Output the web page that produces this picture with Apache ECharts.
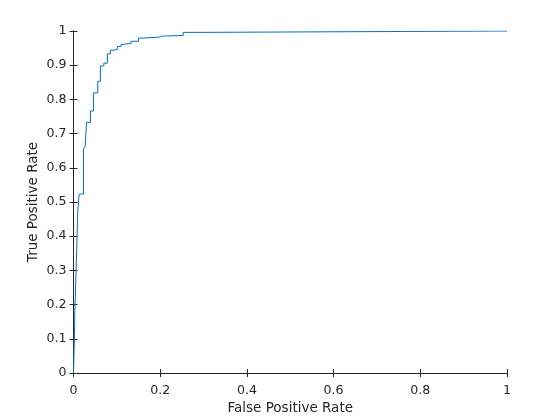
<!DOCTYPE html>
<html>
<head>
<meta charset="utf-8">
<script src="https://cdn.jsdelivr.net/npm/echarts@6/dist/echarts.min.js"></script>
<style>html,body{margin:0;padding:0;background:#fff}#c{width:560px;height:420px}</style>
</head>
<body>
<div id="c"></div>
<script>
// ROC curve step points (false positive rate, true positive rate)
const fpr = [0, 0.002, 0.003, 0.004, 0.006, 0.008, 0.010, 0.013, 0.023, 0.027, 0.030, 0.039, 0.046, 0.056, 0.062, 0.070, 0.078, 0.085, 0.093, 0.101, 0.110, 0.116, 0.133, 0.150, 0.156, 0.198, 0.203, 0.253, 0.299, 1];
const tpr = [0, 0.102, 0.179, 0.216, 0.301, 0.389, 0.477, 0.523, 0.655, 0.662, 0.733, 0.766, 0.819, 0.853, 0.898, 0.906, 0.933, 0.944, 0.946, 0.955, 0.961, 0.964, 0.970, 0.979, 0.982, 0.985, 0.987, 0.996, 1, 1];
const xTicks = [0, 0.2, 0.4, 0.6, 0.8, 1];
const yTicks = [0, 0.1, 0.2, 0.3, 0.4, 0.5, 0.6, 0.7, 0.8, 0.9, 1];
const xName = 'False Positive Rate';
const yName = 'True Positive Rate';

const axisColor = '#262626';
const font = 'DejaVu Sans';
const fmt = v => (Math.abs(v) < 1e-9 ? '0' : (Math.abs(v - 1) < 1e-9 ? '1' : String(+v.toFixed(1))));

const chart = echarts.init(document.getElementById('c'), null, {renderer: 'canvas'});
const common = {
  min: 0, max: 1,
  axisLine: {show: true, lineStyle: {color: axisColor, width: 1}},
  axisTick: {show: true, inside: true, length: 4, lineStyle: {color: axisColor}},
  splitLine: {show: false},
};
chart.setOption({
  animation: false,
  backgroundColor: '#fff',
  grid: {left: 73.5, right: 53, top: 31, bottom: 47, containLabel: false},
  xAxis: [
    Object.assign({}, common, {
      type: 'value', position: 'bottom', interval: 0.2,
      name: xName, nameLocation: 'middle', nameGap: 28, nameMoveOverlap: false,
      nameTextStyle: {color: axisColor, fontFamily: font, fontSize: 13.5},
      axisLabel: {color: axisColor, fontFamily: font, fontSize: 12.6, margin: 11, formatter: fmt}
    }),
    Object.assign({}, common, {
      type: 'value', position: 'top', interval: 0.2,
      axisLabel: {show: false}
    })
  ],
  yAxis: [
    Object.assign({}, common, {
      type: 'value', position: 'left', interval: 0.1,
      name: yName, nameLocation: 'middle', nameGap: 33, nameMoveOverlap: false,
      nameTextStyle: {color: axisColor, fontFamily: font, fontSize: 13.5},
      axisLabel: {color: axisColor, fontFamily: font, fontSize: 12.6, margin: 7, formatter: fmt}
    }),
    Object.assign({}, common, {
      type: 'value', position: 'right', interval: 0.1,
      axisLabel: {show: false}
    })
  ],
  series: [{
    type: 'line',
    step: 'end',
    xAxisIndex: 0, yAxisIndex: 0,
    data: fpr.map((x, i) => [x, tpr[i]]),
    showSymbol: false,
    symbol: 'none',
    lineStyle: {color: '#0072BD', width: 1},
    z: 10
  }]
});
</script>
</body>
</html>
